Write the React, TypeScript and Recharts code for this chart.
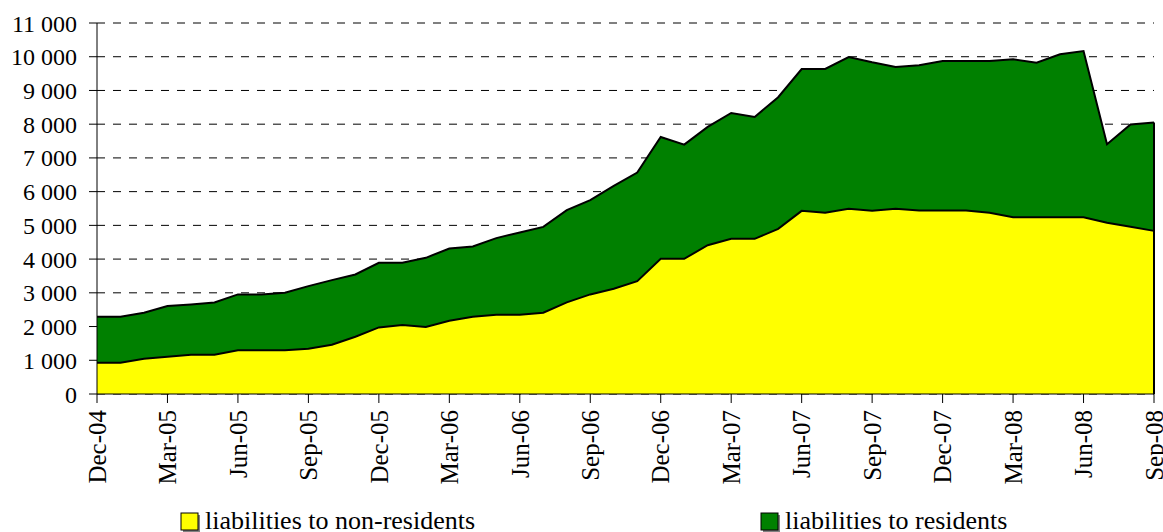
import React from 'react';
import { ComposedChart, Area, Line, XAxis, YAxis, CartesianGrid, ReferenceLine } from 'recharts';

const months = [
  'Dec-04', 'Jan-05', 'Feb-05', 'Mar-05', 'Apr-05', 'May-05', 'Jun-05', 'Jul-05', 'Aug-05', 'Sep-05', 'Oct-05', 'Nov-05',
  'Dec-05', 'Jan-06', 'Feb-06', 'Mar-06', 'Apr-06', 'May-06', 'Jun-06', 'Jul-06', 'Aug-06', 'Sep-06', 'Oct-06', 'Nov-06',
  'Dec-06', 'Jan-07', 'Feb-07', 'Mar-07', 'Apr-07', 'May-07', 'Jun-07', 'Jul-07', 'Aug-07', 'Sep-07', 'Oct-07', 'Nov-07',
  'Dec-07', 'Jan-08', 'Feb-08', 'Mar-08', 'Apr-08', 'May-08', 'Jun-08', 'Jul-08', 'Aug-08', 'Sep-08',
];

const nonResidents = [
  930, 930, 1045, 1105, 1164, 1164, 1294, 1294, 1294, 1343, 1461, 1698,
  1975, 2044, 1985, 2172, 2290, 2349, 2349, 2408, 2716, 2953, 3121, 3347,
  4008, 4008, 4413, 4600, 4600, 4897, 5430, 5371, 5489, 5430, 5489, 5440,
  5440, 5440, 5371, 5243, 5243, 5243, 5243, 5075, 4956, 4837,
];

const residents = [
  1360, 1360, 1365, 1502, 1493, 1552, 1659, 1659, 1707, 1856, 1916, 1847,
  1915, 1846, 2053, 2143, 2084, 2272, 2441, 2548, 2734, 2793, 3049, 3218,
  3614, 3386, 3505, 3733, 3615, 3903, 4206, 4265, 4502, 4404, 4207, 4305,
  4433, 4433, 4502, 4680, 4581, 4828, 4927, 2330, 3032, 3210,
];

const yTicks = [0, 1000, 2000, 3000, 4000, 5000, 6000, 7000, 8000, 9000, 10000, 11000];

const legendItems = [
  { label: 'liabilities to non-residents', color: '#FFFF00' },
  { label: 'liabilities to residents', color: '#008000' },
];

const data = months.map((m, i) => ({
  month: m,
  nonRes: nonResidents[i],
  res: residents[i],
}));

const FONT = '"Liberation Serif", "Times New Roman", serif';

const fmt = (v: number) => {
  const s = String(v);
  if (s.length <= 3) return s;
  return s.slice(0, s.length - 3) + '\u00a0' + s.slice(s.length - 3);
};

const XTick = (props: any) => {
  const { x, y, payload } = props;
  return (
    <text
      x={x}
      y={y}
      transform={`rotate(-90 ${x} ${y})`}
      textAnchor="end"
      dy="0.35em"
      fontFamily={FONT}
      fontSize={25}
      fill="#000"
    >
      {payload.value}
    </text>
  );
};

const lastMonth = months[months.length - 1];
const lastTotal = nonResidents[nonResidents.length - 1] + residents[residents.length - 1];

export default function App() {
  return (
    <div style={{ position: 'absolute', left: 0, top: 0, width: 1163, height: 532, background: '#fff' }}>
      <ComposedChart
        width={1163}
        height={532}
        data={data}
        margin={{ top: 23, right: 9, left: 0, bottom: 0 }}
      >
        <CartesianGrid vertical={false} stroke="#000" strokeDasharray="8 8" strokeWidth={1} />
        <XAxis
          dataKey="month"
          scale="point"
          padding={{ left: 0, right: 0 }}
          interval={2}
          height={138}
          tickSize={9}
          tickMargin={7}
          axisLine={{ stroke: '#000', strokeWidth: 1 }}
          tickLine={{ stroke: '#000' }}
          tick={<XTick />}
        />
        <YAxis
          width={97}
          domain={[0, 11000]}
          ticks={yTicks}
          tickFormatter={fmt}
          tickSize={8}
          tickMargin={12}
          axisLine={{ stroke: '#000', strokeWidth: 1 }}
          tickLine={{ stroke: '#000' }}
          tick={{ fontFamily: FONT, fontSize: 24, fill: '#000' }}
          interval={0}
        />
        <Area
          type="linear"
          dataKey="nonRes"
          stackId="a"
          fill="#FFFF00"
          fillOpacity={1}
          stroke="none"
          isAnimationActive={false}
        />
        <Area
          type="linear"
          dataKey="res"
          stackId="a"
          fill="#008000"
          fillOpacity={1}
          stroke="#000"
          strokeWidth={2}
          isAnimationActive={false}
        />
        <Line
          type="linear"
          dataKey="nonRes"
          stroke="#000"
          strokeWidth={2}
          dot={false}
          activeDot={false}
          isAnimationActive={false}
        />
        <ReferenceLine
          segment={[{ x: lastMonth, y: 0 }, { x: lastMonth, y: lastTotal }]}
          stroke="#000"
          strokeWidth={2}
        />
      </ComposedChart>
      <svg
        width={1163}
        height={532}
        style={{ position: 'absolute', left: 0, top: 0, pointerEvents: 'none' }}
      >
        {legendItems.map((item, i) => {
          const bx = i === 0 ? 181 : 761;
          return (
            <g key={item.label}>
              <rect x={bx + 2} y={515} width={17} height={17} fill="#808080" />
              <rect x={bx} y={513} width={17} height={17} fill={item.color} stroke="#000" strokeWidth={1} />
              <text x={bx + 24} y={529} fontFamily={FONT} fontSize={26} fill="#000">
                {item.label}
              </text>
            </g>
          );
        })}
      </svg>
    </div>
  );
}
